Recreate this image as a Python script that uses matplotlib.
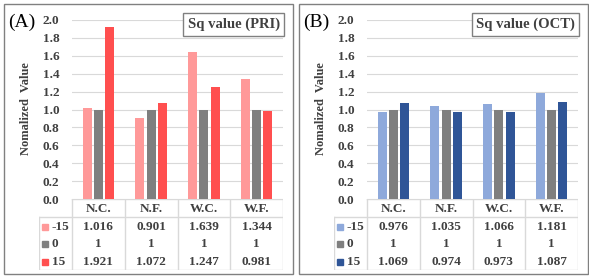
import numpy as np
import matplotlib
matplotlib.use("Agg")
import matplotlib.pyplot as plt
from matplotlib.patches import Rectangle

# data
categories = ["N.C.", "N.F.", "W.C.", "W.F."]
series_names = ["-15", "0", "15"]
pri_vals = [
    [1.016, 0.901, 1.639, 1.344],
    [1, 1, 1, 1],
    [1.921, 1.072, 1.247, 0.981],
]
oct_vals = [
    [0.976, 1.035, 1.066, 1.181],
    [1, 1, 1, 1],
    [1.069, 0.974, 0.973, 1.087],
]
pri_labels = [
    ["1.016", "0.901", "1.639", "1.344"],
    ["1", "1", "1", "1"],
    ["1.921", "1.072", "1.247", "0.981"],
]
oct_labels = [
    ["0.976", "1.035", "1.066", "1.181"],
    ["1", "1", "1", "1"],
    ["1.069", "0.974", "0.973", "1.087"],
]
pri_colors = ["#FF9999", "#7F7F7F", "#FF4F4F"]
oct_colors = ["#8EA9DB", "#7F7F7F", "#2F5597"]

W, H = 589, 277
plt.rcParams['font.family'] = ['Liberation Serif', 'DejaVu Serif']
txt_col = "#404040"
grid_col = "#D9D9D9"

fig = plt.figure(figsize=(W / 100, H / 100), dpi=100)


def fbox(x0, y0, x1, y1):
    # pixel box (top-left origin) -> figure fraction rect
    return [x0 / W, 1 - y1 / H, (x1 - x0) / W, (y1 - y0) / H]


def panel(dx, letter, title, vals, labels, colors):
    # outer border
    fig.patches.append(Rectangle((((4 + dx) / W), 3 / H), 289 / W, 270 / H,
                                 transform=fig.transFigure, fill=False,
                                 edgecolor="#808080", lw=1.0))
    ax = fig.add_axes(fbox(72 + dx, 20, 283 + dx, 199))
    x = np.arange(len(categories))
    bw = 0.17
    offs = [-0.215, 0, 0.215]
    for i in range(3):
        ax.bar(x + offs[i], vals[i], bw, color=colors[i], zorder=3)
    ax.set_xlim(-0.5, 3.5)
    ax.set_ylim(0, 2.0)
    ax.set_yticks(np.arange(0, 2.01, 0.2))
    ax.set_yticklabels([f"{v:.1f}" for v in np.arange(0, 2.01, 0.2)],
                       fontsize=9.5, fontweight="bold", color=txt_col)
    ax.tick_params(axis="y", length=0, pad=9)
    ax.set_xticks([])
    ax.grid(axis="y", color=grid_col, lw=0.8, zorder=0)
    for s in ax.spines.values():
        s.set_visible(False)
    ax.text(0.985, 0.975, title, transform=ax.transAxes, ha="right", va="center",
            fontsize=10.5, fontweight="bold", color=txt_col,
            bbox=dict(boxstyle="square,pad=0.3", fc="white", ec="#808080", lw=1.0))
    fig.text((8 + dx) / W, 1 - 22 / H, letter, fontsize=14, ha="left", va="center",
             color="black")
    fig.text((26 + dx) / W, 1 - 109 / H, "Nomalized  Value", rotation=90,
             fontsize=9, fontweight="bold", color=txt_col, ha="center", va="center")

    # data table
    tb = fig.add_axes(fbox(39 + dx, 199, 283 + dx, 270))
    lw_col = 0.626
    tb.set_xlim(-0.5 - lw_col, 3.5)
    tb.set_ylim(4, 0)
    tb.axis("off")
    lc = grid_col
    tb.plot([-0.5, 3.5], [0, 0], color=lc, lw=1.0)
    tb.plot([-0.5 - lw_col, 3.5], [1, 1], color=lc, lw=1.0)
    tb.plot([-0.5 - lw_col, 3.5], [4, 4], color=lc, lw=1.0)
    tb.plot([-0.5 - lw_col] * 2, [1, 4], color=lc, lw=1.0)
    for b in np.arange(-0.5, 3.6, 1.0):
        tb.plot([b, b], [0, 4], color=lc, lw=1.0)
    for j, c in enumerate(categories):
        tb.text(j, 0.55, c, ha="center", va="center", fontsize=9.5,
                fontweight="bold", color=txt_col)
    for i in range(3):
        tb.plot([-0.5 - lw_col + 0.12], [1.55 + i], marker="s", ms=4.5,
                color=colors[i], ls="none")
        tb.text(-0.5 - lw_col + 0.24, 1.55 + i, series_names[i], ha="left",
                va="center", fontsize=9.5, fontweight="bold", color=txt_col)
        for j in range(4):
            tb.text(j, 1.55 + i, labels[i][j], ha="center", va="center",
                    fontsize=9.5, fontweight="bold", color=txt_col)


panel(0, "(A)", "Sq value (PRI)", pri_vals, pri_labels, pri_colors)
panel(295, "(B)", "Sq value (OCT)", oct_vals, oct_labels, oct_colors)

fig.savefig("out.png", dpi=100, facecolor="white")
